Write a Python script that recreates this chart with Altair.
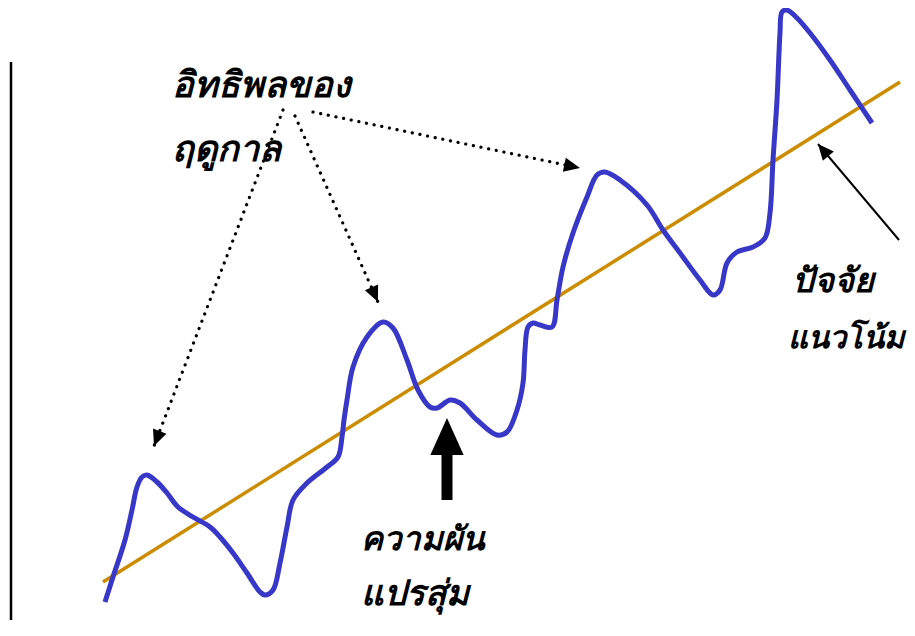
import math
import altair as alt
import pandas as pd

# ---- data (x = horizontal position, y = vertical value, up positive) ----
PAGE_H = 636
curve_x = [105, 113, 125, 132, 137, 142, 147, 157, 167, 178, 193, 210, 220, 233, 247, 260, 265, 273,
           280, 287, 293, 307, 327, 338, 342, 344, 347, 353, 367, 383, 393, 407, 418, 430, 437, 450,
           460, 477, 497, 507, 517, 523, 525, 528, 533, 540, 552, 557, 563, 573, 587, 597, 605, 620,
           647, 663, 680, 700, 713, 720, 727, 737, 753, 765, 770, 773, 777, 780, 782, 787, 797, 810,
           830, 850, 872]
curve_py = [602, 577, 540, 510, 487, 477, 475, 482, 493, 507, 517, 527, 537, 553, 573, 592, 595, 590,
            563, 527, 500, 483, 467, 457, 437, 420, 400, 367, 337, 322, 328, 360, 390, 407, 408, 400,
            403, 420, 435, 432, 410, 383, 350, 327, 323, 325, 327, 300, 267, 233, 197, 175, 172, 180,
            205, 230, 253, 280, 295, 290, 263, 252, 247, 238, 213, 160, 100, 33, 12, 10, 18, 33,
            60, 90, 123]
curve_y = [PAGE_H - v for v in curve_py]

trend_x = [103, 900]
trend_y = [PAGE_H - 582, PAGE_H - 82]

axis_x = [11]
axis_y_top = [PAGE_H - 62]
axis_y_bottom = [PAGE_H - 640]

# dotted arrows (seasonal effect): start -> apex
dot_x1 = [283, 295, 313]
dot_y1 = [PAGE_H - 110, PAGE_H - 116, PAGE_H - 112]
dot_x2 = [154, 378, 580]
dot_y2 = [PAGE_H - 446, PAGE_H - 302, PAGE_H - 168]

# trend arrow (thin)
trend_arrow_x1 = [899]
trend_arrow_y1 = [PAGE_H - 240]
trend_arrow_x2 = [818]
trend_arrow_y2 = [PAGE_H - 144]

# random-variation arrow (thick, upward)
rand_arrow_x = [447]
rand_arrow_y1 = [PAGE_H - 500]
rand_arrow_y2 = [PAGE_H - 450]
rand_arrow_tip = [PAGE_H - 418]

labels = ["อิทธิพลของ", "ฤดูกาล", "ความผัน", "แปรสุ่ม", "ปัจจัย", "แนวโน้ม"]
label_x = [172, 172, 361, 361, 792, 788]
label_y = [PAGE_H - 97, PAGE_H - 161, PAGE_H - 550, PAGE_H - 605, PAGE_H - 292, PAGE_H - 348]
label_size = [36, 36, 33, 35, 34, 31]

# ---- frame ----
W, H = 899, 612
xs = alt.Scale(domain=[8, 8 + W], nice=False, zero=False)
ys = alt.Scale(domain=[PAGE_H - 8 - H, PAGE_H - 8], nice=False, zero=False)
X = lambda f: alt.X(f, type="quantitative", scale=xs, axis=None)
Y = lambda f: alt.Y(f, type="quantitative", scale=ys, axis=None)


def heading(dx, dy_up):
    # clockwise angle from "up" on screen; dy_up is positive upward
    return math.degrees(math.atan2(dx, dy_up)) % 360


HEAD = "M0,0L0.9,2L-0.9,2Z"

curve_df = pd.DataFrame({"x": curve_x, "y": curve_y, "i": range(len(curve_x))})
trend_df = pd.DataFrame({"x": trend_x, "y": trend_y})
axis_df = pd.DataFrame({"x": axis_x, "y": axis_y_top, "y2": axis_y_bottom})
dots_df = pd.DataFrame({"x": dot_x1, "y": dot_y1, "x2": dot_x2, "y2": dot_y2})
heads_df = pd.DataFrame({
    "x": dot_x2 + trend_arrow_x2,
    "y": dot_y2 + trend_arrow_y2,
    "a": [heading(b - a, d - c) for a, b, c, d in zip(dot_x1 + trend_arrow_x1, dot_x2 + trend_arrow_x2,
                                                     dot_y1 + trend_arrow_y1, dot_y2 + trend_arrow_y2)],
})
thin_df = pd.DataFrame({"x": trend_arrow_x1, "y": trend_arrow_y1, "x2": trend_arrow_x2, "y2": trend_arrow_y2})
shaft_df = pd.DataFrame({"x": rand_arrow_x, "y": rand_arrow_y1, "y2": rand_arrow_y2})
big_head_df = pd.DataFrame({"x": rand_arrow_x, "y": rand_arrow_tip})
label_df = pd.DataFrame({"t": labels, "x": label_x, "y": label_y, "s": label_size})

axis_line = alt.Chart(axis_df).mark_rule(color="black", strokeWidth=2.5).encode(
    x=X("x"), y=Y("y"), y2="y2")

trend = alt.Chart(trend_df).mark_line(color="#CC8C00", strokeWidth=3.5).encode(x=X("x"), y=Y("y"))

curve = alt.Chart(curve_df).mark_line(color="#3838C8", strokeWidth=5, interpolate="catmull-rom").encode(
    x=X("x"), y=Y("y"), order="i:Q")

dots = alt.Chart(dots_df).mark_rule(color="black", strokeWidth=3.2, strokeCap="round",
                                    strokeDash=[0.1, 7.7]).encode(x=X("x"), y=Y("y"), x2="x2", y2="y2")

heads = alt.Chart(heads_df).mark_point(shape=HEAD, filled=True, color="black", opacity=1,
                                       size=256, strokeWidth=0).encode(
    x=X("x"), y=Y("y"), angle=alt.Angle("a:Q", scale=None))

thin = alt.Chart(thin_df).mark_rule(color="black", strokeWidth=2).encode(
    x=X("x"), y=Y("y"), x2="x2", y2="y2")

shaft = alt.Chart(shaft_df).mark_rule(color="black", strokeWidth=11).encode(x=X("x"), y=Y("y"), y2="y2")

big_head = alt.Chart(big_head_df).mark_point(shape=HEAD, filled=True, color="black", opacity=1,
                                             size=1369, strokeWidth=0).encode(x=X("x"), y=Y("y"))

text = alt.Chart(label_df).mark_text(align="left", baseline="alphabetic", font="Noto Sans",
                                     fontWeight="bold", fontStyle="italic",
                                     color="black").encode(
    x=X("x"), y=Y("y"), text="t:N", size=alt.Size("s:Q", scale=None, legend=None))

chart = alt.layer(axis_line, trend, curve, dots, heads, thin, shaft, big_head, text).properties(
    width=W, height=H, autosize=alt.AutoSizeParams(type="none"), padding=0
).configure_view(stroke=None)

chart.save("out.html", embed_options={"renderer": "svg", "actions": False})
